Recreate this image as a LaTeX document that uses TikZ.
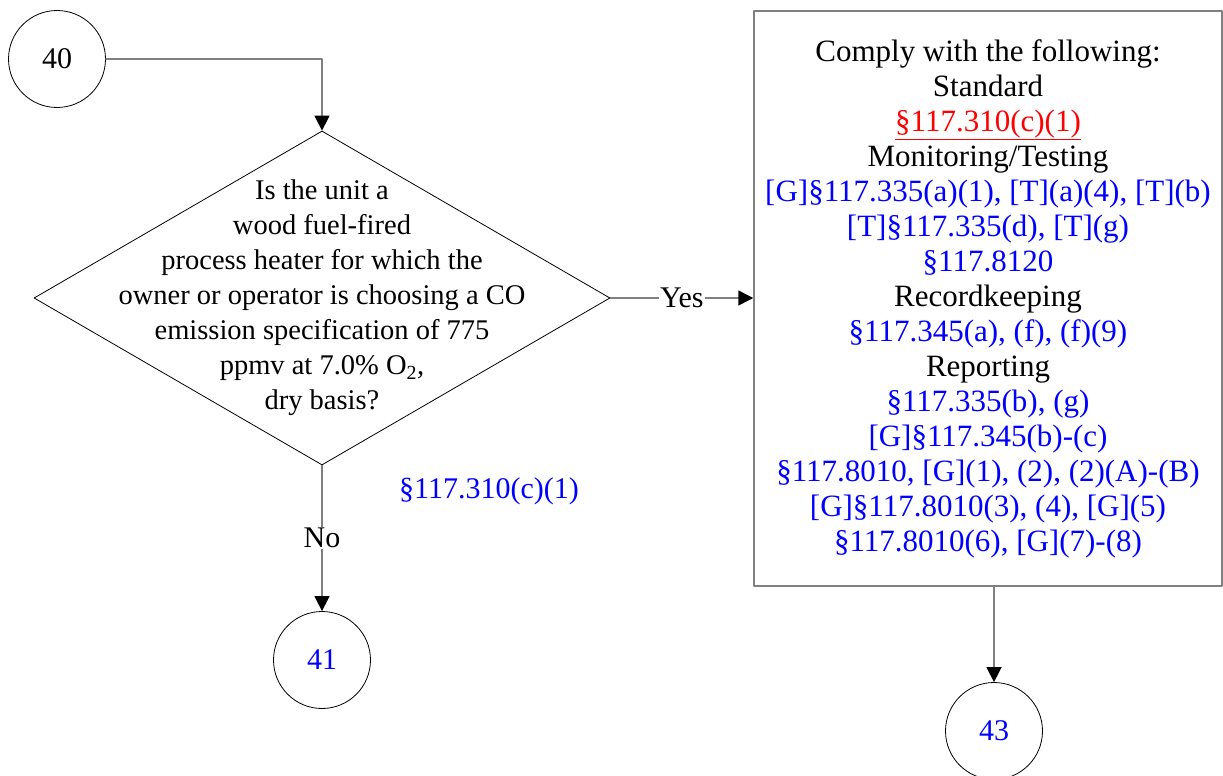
\documentclass[tikz,border=0pt]{standalone}
\usepackage{fontspec}
\setmainfont{Liberation Serif}
\usetikzlibrary{arrows.meta,shapes.geometric}

\definecolor{refblue}{RGB}{0,0,255}
\definecolor{refred}{RGB}{255,0,0}
\definecolor{linegray}{RGB}{128,128,128}

\begin{document}
\begin{tikzpicture}[line cap=round,line join=round,x=1pt,y=-1pt,
  >={Triangle[width=15pt,length=15pt,color=black,fill=black]},
  every node/.style={font=\fontsize{30}{35}\selectfont},
  conn/.style={draw=linegray,line width=1.5pt},
  term/.style={circle,draw=black,line width=0.8pt,minimum size=97pt,inner sep=0pt},
  lbl/.style={fill=white,inner sep=1pt}]

\useasboundingbox (0,0) rectangle (1223,776);

% connectors off-page
\node[term] (c40) at (57,59) {40};
\node[term,text=refblue] (c41) at (322,660) {41};
\node[term,text=refblue] (c43) at (994,731) {43};

% question
\node[diamond,draw=black,line width=0.8pt,minimum width=576pt,minimum height=334pt,
  aspect=1.725,inner sep=0pt] (q) at (322,298) {};
\node[align=center,font=\fontsize{28.5}{35}\selectfont] (qtext) at (322,298) {Is the unit a\\wood fuel-fired\\process heater for which the\\owner or operator is choosing a CO\\emission specification of 775\\ppmv at 7.0\% O\textsubscript{2},\\dry basis?};
\node[text=refblue] (ref) at (489,491) {§117.310(c)(1)};

% requirements
\node[draw=linegray,line width=1.5pt,minimum width=468pt,minimum height=575pt,
  align=center,inner sep=0pt,font=\fontsize{31}{35}\selectfont] (req) at (988,298.5) {Comply with the following:\\
  Standard\\
  \textcolor{refred}{\underline{§117.310(c)(1)}}\\
  Monitoring/Testing\\
  \textcolor{refblue}{[G]§117.335(a)(1), [T](a)(4), [T](b)}\\
  \textcolor{refblue}{[T]§117.335(d), [T](g)}\\
  \textcolor{refblue}{§117.8120}\\
  Recordkeeping\\
  \textcolor{refblue}{§117.345(a), (f), (f)(9)}\\
  Reporting\\
  \textcolor{refblue}{§117.335(b), (g)}\\
  \textcolor{refblue}{[G]§117.345(b)-(c)}\\
  \textcolor{refblue}{§117.8010, [G](1), (2), (2)(A)-(B)}\\
  \textcolor{refblue}{[G]§117.8010(3), (4), [G](5)}\\
  \textcolor{refblue}{§117.8010(6), [G](7)-(8)}};

\draw[conn,->] (c40.east) -| (q.north);
\draw[conn,->] (q.east) -- node[lbl] {Yes} (q.east -| req.west);
\draw[conn,->] (q.south) -- node[lbl] {No} (c41.north);
\draw[conn,->] (req.south -| c43) -- (c43.north);

\end{tikzpicture}
\end{document}
